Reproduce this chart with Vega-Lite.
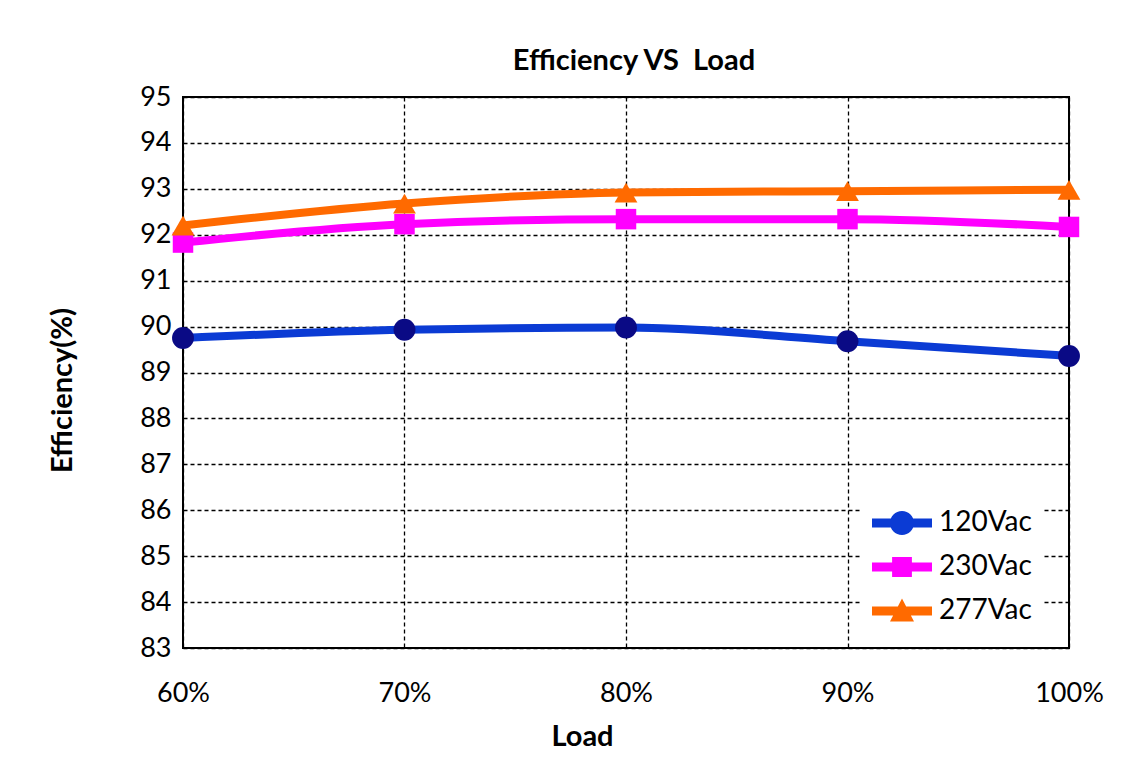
{
  "$schema": "https://vega.github.io/schema/vega-lite/v6.json",
  "autosize": {"type": "none"},
  "padding": {"left": 183, "top": 97, "right": 78, "bottom": 121},
  "width": 886,
  "height": 551,
  "background": "white",
  "title": {
    "text": "Efficiency VS \u00a0Load",
    "font": "Lato",
    "fontSize": 29,
    "fontWeight": "bold",
    "color": "black",
    "anchor": "middle",
    "dx": 8,
    "offset": 7
  },
  "config": {
    "view": {"stroke": "black", "strokeWidth": 2},
    "axis": {
      "labelFont": "Lato",
      "labelFontSize": 27,
      "labelColor": "black",
      "titleFont": "Lato",
      "titleFontSize": 29,
      "titleFontWeight": "bold",
      "titleColor": "black",
      "gridColor": "black",
      "gridDash": [4, 3],
      "gridWidth": 1.3,
      "gridOpacity": 1,
      "domain": false,
      "ticks": false
    }
  },
  "data": {
    "values": [
      {"series": "120Vac", "load": 0.6, "eff": 89.75},
      {"series": "120Vac", "load": 0.7, "eff": 89.93},
      {"series": "120Vac", "load": 0.8, "eff": 89.98},
      {"series": "120Vac", "load": 0.9, "eff": 89.68},
      {"series": "120Vac", "load": 1.0, "eff": 89.36},
      {"series": "230Vac", "load": 0.6, "eff": 91.83},
      {"series": "230Vac", "load": 0.7, "eff": 92.23},
      {"series": "230Vac", "load": 0.8, "eff": 92.34},
      {"series": "230Vac", "load": 0.9, "eff": 92.34},
      {"series": "230Vac", "load": 1.0, "eff": 92.17},
      {"series": "277Vac", "load": 0.6, "eff": 92.2},
      {"series": "277Vac", "load": 0.7, "eff": 92.68},
      {"series": "277Vac", "load": 0.8, "eff": 92.92},
      {"series": "277Vac", "load": 0.9, "eff": 92.95},
      {"series": "277Vac", "load": 1.0, "eff": 92.98}
    ]
  },
  "encoding": {
    "x": {
      "field": "load",
      "type": "quantitative",
      "title": "Load",
      "scale": {"domain": [0.6, 1.0], "nice": false},
      "axis": {"values": [0.6, 0.7, 0.8, 0.9, 1.0], "format": ".0%", "labelPadding": 32, "titlePadding": 16, "titleX": 399, "labelFlush": false}
    },
    "y": {
      "field": "eff",
      "type": "quantitative",
      "title": "Efficiency(%)",
      "scale": {"domain": [83, 95], "nice": false, "zero": false},
      "axis": {"values": [83, 84, 85, 86, 87, 88, 89, 90, 91, 92, 93, 94, 95], "labelPadding": 12, "titlePadding": 62, "titleY": 293}
    },
    "color": {
      "field": "series",
      "type": "nominal",
      "title": null,
      "scale": {"domain": ["120Vac", "230Vac", "277Vac"], "range": ["#0B3BD4", "#FF00FF", "#FF6A00"]},
      "legend": {
        "orient": "none",
        "legendX": 677,
        "legendY": 384,
        "padding": 12,
        "fillColor": "white",
        "strokeColor": null,
        "labelFont": "Lato",
        "labelFontSize": 28,
        "labelColor": "black",
        "labelOffset": 7,
        "symbolSize": 3600,
        "rowPadding": -9,
        "encode": {
          "symbols": {
            "update": {
              "shape": {"signal": "datum.value === '120Vac' ? 'M-1,-0.15L1,-0.15L1,0.15L-1,0.15ZM-0.4,0A0.4,0.4,0,1,1,0.4,0A0.4,0.4,0,1,1,-0.4,0Z' : datum.value === '230Vac' ? 'M-1,-0.15L1,-0.15L1,0.15L-1,0.15ZM-0.33,-0.33L0.33,-0.33L0.33,0.33L-0.33,0.33Z' : 'M-1,-0.15L1,-0.15L1,0.15L-1,0.15ZM0,-0.42L0.4,0.35L-0.4,0.35Z'"},
              "fill": {"signal": "datum.value === '120Vac' ? '#0B3BD4' : datum.value === '230Vac' ? '#FF00FF' : '#FF6A00'"},
              "stroke": {"value": "transparent"},
              "strokeWidth": {"value": 0},
              "opacity": {"value": 1}
            }
          }
        }
      }
    }
  },
  "layer": [
    {
      "mark": {"type": "line", "interpolate": "monotone", "strokeWidth": 8, "strokeCap": "round"},
      "encoding": {}
    },
    {
      "transform": [{"filter": "datum.series === '120Vac'"}],
      "mark": {"type": "point", "filled": true, "opacity": 1, "shape": "circle", "size": 480, "fill": "#0A0A85"}
    },
    {
      "transform": [{"filter": "datum.series === '230Vac'"}],
      "mark": {"type": "point", "filled": true, "opacity": 1, "shape": "square", "size": 420, "fill": "#FF00FF"}
    },
    {
      "transform": [{"filter": "datum.series === '277Vac'"}],
      "mark": {"type": "point", "filled": true, "opacity": 1, "shape": "triangle-up", "size": 520, "fill": "#FF6A00"}
    }
  ]
}
